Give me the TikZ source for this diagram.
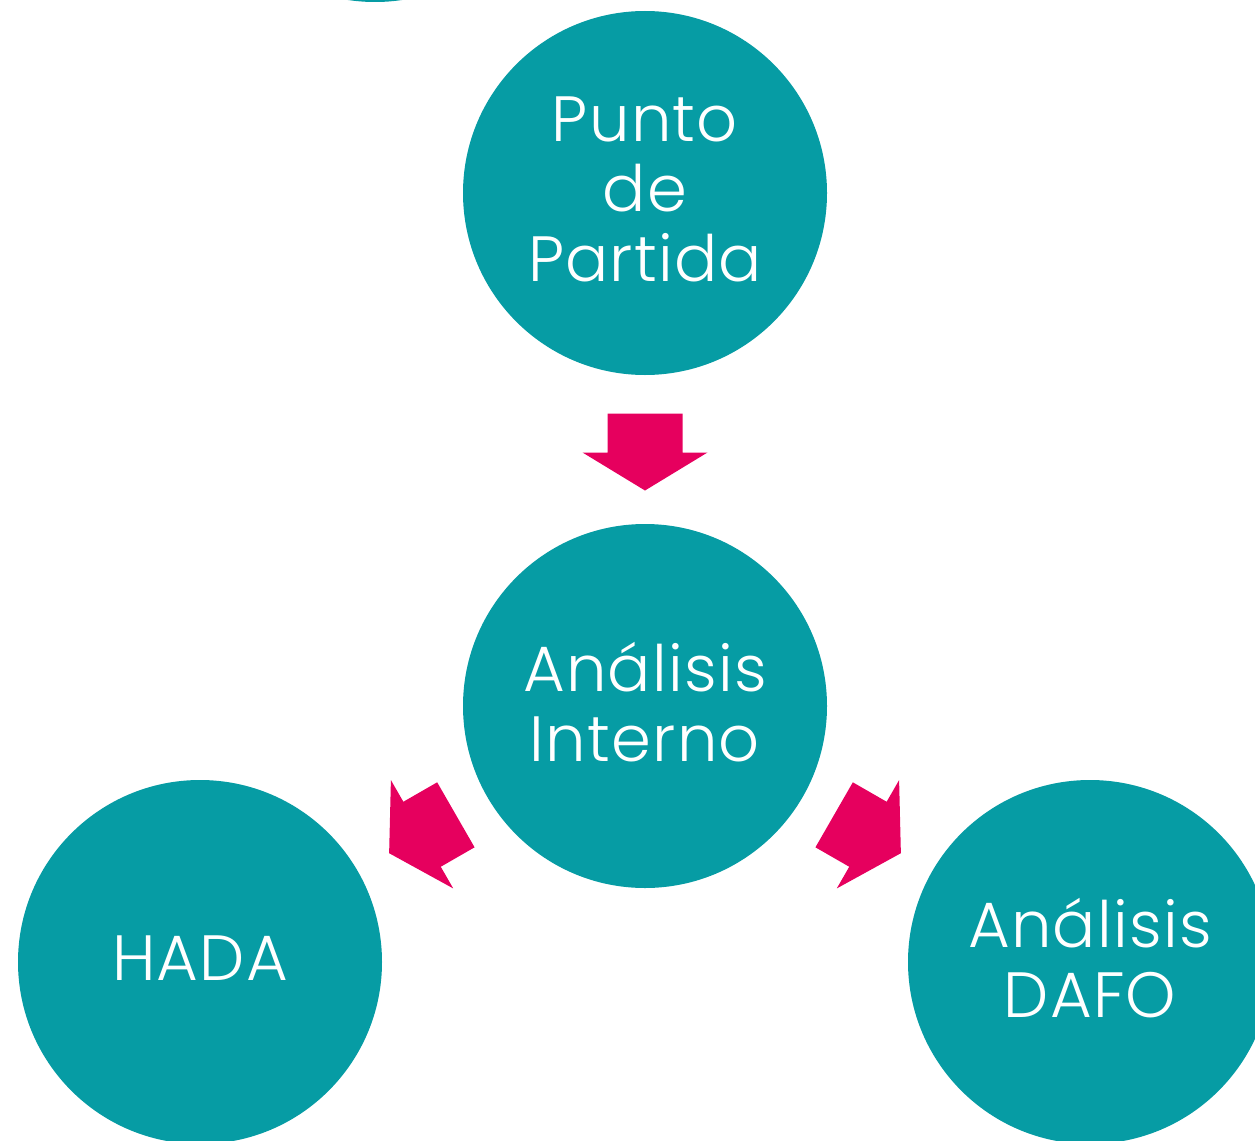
\documentclass[tikz,border=0pt]{standalone}
\usepackage{fontspec}
\setmainfont{Poppins}[UprightFont=* Light,LetterSpace=2]
\definecolor{tealc}{RGB}{6,156,164}
\definecolor{pinkc}{RGB}{230,0,94}
\begin{document}
\begin{tikzpicture}[x=1pt,y=-1pt,
  circ/.style={circle,fill=tealc,minimum size=364pt,inner sep=0pt},
  txt/.style={label={[text=white,align=center,yshift=4pt,
    font=\fontsize{64}{70}\selectfont]center:#1}},
  blockarrow/.pic={\fill[pinkc] (-38.5,-37.5) -- (0.5,-37.5) -- (0.5,-62.5) -- (38.5,0)
      -- (0.5,62.5) -- (0.5,37.5) -- (-38.5,37.5) -- cycle;}]
\useasboundingbox (0,0) rectangle (1255,1140);
\clip (0,0) rectangle (1255,1140);
\node[circ] (prev) at (375,-180) {};
\node[circ,txt={Punto\\de\\Partida}] (top) at (645,193) {};
\node[circ,txt={Análisis\\Interno}] (mid) at (645,706) {};
\node[circ,txt={HADA}] (hada) at (200,962) {};
\node[circ,txt={Análisis\\DAFO}] (dafo) at (1090,962) {};
\path (top) -- (mid) pic[pos=0.5,sloped,allow upside down,xshift=2.5pt]{blockarrow};
\path (mid) -- (hada) pic[pos=0.5,sloped,allow upside down]{blockarrow};
\path (mid) -- (dafo) pic[pos=0.5,sloped,allow upside down]{blockarrow};
\end{tikzpicture}
\end{document}
